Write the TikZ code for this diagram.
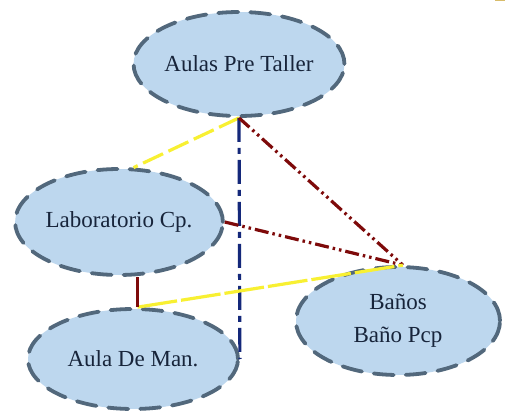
\documentclass[tikz,border=0pt]{standalone}
\usepackage{fontspec}
\setmainfont{Liberation Serif}
\usetikzlibrary{shapes.geometric}
\definecolor{fillblue}{HTML}{BDD7EE}
\definecolor{bordergray}{HTML}{52687C}
\definecolor{txtcol}{HTML}{17243A}
\definecolor{lnyellow}{HTML}{F8F032}
\definecolor{lnred}{HTML}{7E0A0A}
\definecolor{lnblue}{HTML}{14287A}
\definecolor{goldmark}{HTML}{D8BC6A}
\begin{document}
\begin{tikzpicture}[x=1pt,y=-1pt,
  place/.style={ellipse, draw=bordergray, fill=fillblue, line width=3.8pt,
    line cap=round, dash pattern=on 20pt off 12pt, inner sep=0pt, text=txtcol,
    font=\fontsize{23}{33}\selectfont, align=center},
  yellowline/.style={draw=lnyellow, line width=3.2pt},
  redline/.style={draw=lnred, line width=3.2pt},
  reddashdot/.style={redline, dash pattern=on 14pt off 4pt on 2.5pt off 4pt on 2.5pt off 4pt},
  blueline/.style={draw=lnblue, line width=3.2pt, dash pattern=on 24pt off 6pt on 6pt off 6pt}
]
\useasboundingbox (0,0) rectangle (505,419);
\fill[white] (0,0) rectangle (505,419);
\fill[goldmark] (495,0) rectangle (505,1.5);

\node[place, minimum width=206pt, minimum height=104pt] (aulas) at (239,64) {Aulas Pre Taller};
\node[place, minimum width=204pt, minimum height=106pt] (lab) at (119,222) {Laboratorio Cp.};
\node[place, minimum width=210pt, minimum height=100pt] (aula) at (133,359) {Aula De Man.};
\node[place, minimum width=204pt, minimum height=108pt] (banos) at (398,321) {Baños\\Baño Pcp};

\draw[yellowline, dash pattern=on 22pt off 6pt] (aulas.south) -- (lab.75);
\draw[blueline] (aulas.south) -- (aula.east);
\draw[reddashdot] (aulas.south) -- (banos.85);
\draw[reddashdot] (lab.east) -- (banos.85);
\draw[yellowline, dash pattern=on 40pt off 4pt] (aula.85) -- (banos.85);
\draw[redline] (aula.85) -- (aula.85 |- lab.south);
\end{tikzpicture}
\end{document}
